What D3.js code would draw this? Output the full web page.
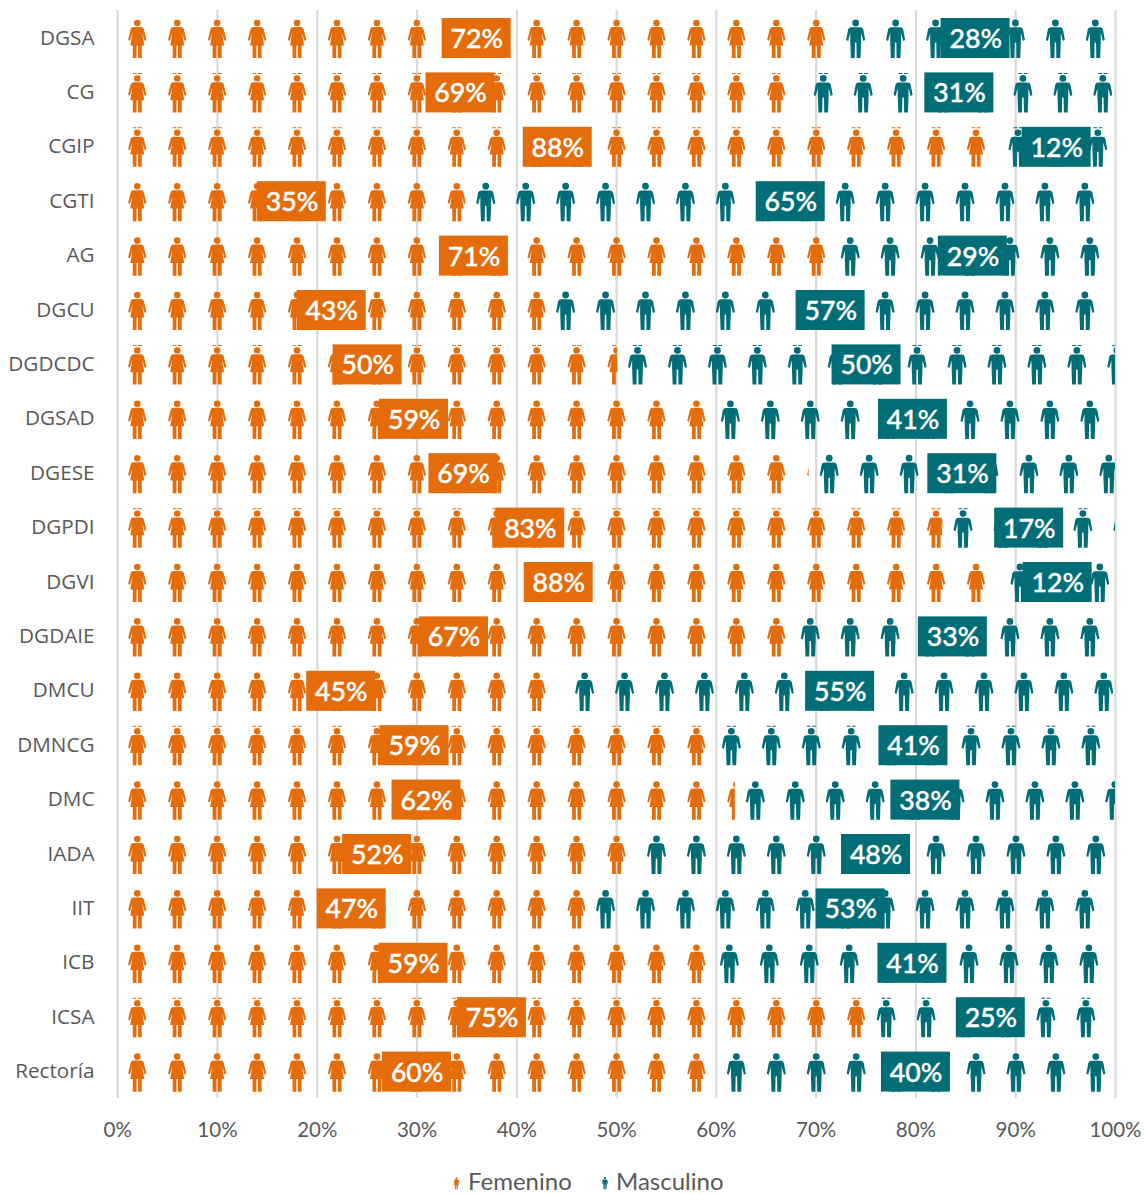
<!DOCTYPE html>
<html><head><meta charset="utf-8">
<script src="https://cdn.jsdelivr.net/npm/d3@7"></script>
<style>
html,body{margin:0;padding:0;background:#fff}
svg{display:block}
</style></head>
<body><div id="chart"></div>
<script>
const categories = ["DGSA","CG","CGIP","CGTI","AG","DGCU","DGDCDC","DGSAD","DGESE","DGPDI","DGVI","DGDAIE","DMCU","DMNCG","DMC","IADA","IIT","ICB","ICSA","Rectoría"];
const femenino = [71.95,68.7,88.2,34.9,71.4,42.9,50.1,59.4,69.3,82.7,88.4,67.4,44.8,59.5,61.9,52,46.9,59.3,75,60];
const femeninoLabels = [72,69,88,35,71,43,50,59,69,83,88,67,45,59,62,52,47,59,75,60];
const masculinoLabels = [28,31,12,65,29,57,50,41,31,17,12,33,55,41,38,48,53,41,25,40];
const tileEdgeRows = ["CG","CGIP","DGDCDC","DGPDI","DMNCG","ICSA"];
const xTicks = [0,10,20,30,40,50,60,70,80,90,100];
const seriesNames = ["Femenino","Masculino"];
const iconStep = 4;

const W = 1146, H = 1194;
const ORANGE = "#E46C0A", TEAL = "#006D77";
const FEMALE = "M-3.3,3.4a3.3,3.3 0 1,0 6.6,0a3.3,3.3 0 1,0 -6.6,0Z M-3.8,7.4L3.8,7.4Q5.9,7.4 6.5,9.2L9.2,20.3L7.4,21.3L4.9,13.4L7,25.8L4.5,25.8L4.5,38.5L0.8,38.5L0.8,25.8L-0.7,25.8L-0.7,38.5L-4.5,38.5L-4.5,25.8L-7,25.8L-4.9,13.4L-7.4,21.3L-9.2,20.3L-6.5,9.2Q-5.9,7.4 -3.8,7.4Z";
const MALE = "M-3.4,3.4a3.4,3.4 0 1,0 6.8,0a3.4,3.4 0 1,0 -6.8,0Z M-4.4,7.6L4.4,7.6Q7,7.6 7.6,10L9.5,20.5L7.6,21.5L5.4,13.5L5.4,22L4.8,38.5L1,38.5L0.7,23L-0.7,23L-1,38.5L-4.8,38.5L-5.4,22L-5.4,13.5L-7.6,21.5L-9.5,20.5L-7.6,10Q-7,7.6 -4.4,7.6Z";
const EDGE = "M-4.5,-2.2h3.8v1h-3.8Z M0.8,-2.2h3.8v1h-3.8Z";

const x = d3.scaleLinear().domain([0,100]).range([117.2,1115]);
const y = d3.scaleBand().domain(categories).range([11,1099]);

const svg = d3.select("#chart").append("svg").attr("width",W).attr("height",H);
const defs = svg.append("defs");

// grid + x axis
const gx = svg.append("g").attr("transform","translate(0,1098)")
  .call(d3.axisBottom(x).tickValues(xTicks).tickFormat(d=>d+"%").tickSize(-1088).tickPadding(0));
gx.select(".domain").remove();
gx.selectAll("line").attr("stroke","#d9d9d9").attr("stroke-width",2.2);
gx.selectAll("text").attr("fill","#595959").attr("y",38.5).attr("dy",0)
  .style("font-family","Lato").style("font-size","20.5px");

// y axis
const gy = svg.append("g").attr("transform","translate(94.5,0)")
  .call(d3.axisLeft(y).tickSize(0).tickPadding(0));
gy.select(".domain").remove();
gy.selectAll("text").attr("fill","#595959")
  .style("font-family","'Open Sans'").style("font-size","20.7px")
  .attr("dy","0.35em").attr("y",-0.8);

const rows = svg.append("g").selectAll("g").data(categories).join("g")
  .attr("transform",d=>`translate(0,${y(d)+y.bandwidth()/2})`);

function iconCentres(start,end){
  const out=[];
  for(let c=start+iconStep/2; c-iconStep/2<end; c+=iconStep) out.push(c);
  return out;
}

rows.each(function(cat,i){
  const g = d3.select(this);
  const v = femenino[i];
  const edge = tileEdgeRows.includes(cat);
  const parts = [
    {id:"f"+i,a:0,b:v,path:FEMALE,color:ORANGE},
    {id:"m"+i,a:v,b:100,path:MALE,color:TEAL}
  ];
  parts.forEach(p=>{
    defs.append("clipPath").attr("id",p.id).append("rect")
      .attr("x",x(p.a)).attr("width",x(p.b)-x(p.a)).attr("y",-30).attr("height",60);
    const pg = g.append("g").attr("clip-path",`url(#${p.id})`).attr("fill",p.color);
    const sy = edge?0.97:1;
    const cs = pg.selectAll("g").data(iconCentres(p.a,p.b)).join("g")
      .attr("transform",c=>`translate(${x(c)+0.1+c*0.007},${-18.6+(edge?1.1:0)}) scale(1,${sy})`);
    cs.append("path").attr("d",p.path);
    if(edge) cs.append("path").attr("d",EDGE);
  });
  const labels=[
    {c:v/2,t:femeninoLabels[i],color:ORANGE},
    {c:v+(100-v)/2,t:masculinoLabels[i],color:TEAL}
  ];
  labels.forEach(l=>{
    g.append("rect").attr("x",x(l.c)-34.5).attr("y",-20.2).attr("width",69).attr("height",40).attr("fill",l.color);
    g.append("text").attr("x",x(l.c)+0.6).attr("y",9.8).attr("text-anchor","middle").attr("fill","#fff")
      .attr("stroke","#fff").attr("stroke-width",0.4)
      .style("font-family","Lato").style("font-size","26.7px").style("font-weight",500).text(l.t+"%");
  });
});

// legend
const legendX = [456.5,605], legendTextX = [468,616], legendIcon=[FEMALE,MALE], legendColor=[ORANGE,TEAL];
seriesNames.forEach((n,i)=>{
  svg.append("path").attr("d",legendIcon[i]).attr("fill",legendColor[i])
    .attr("transform",`translate(${legendX[i]},1177) scale(0.32)`);
  svg.append("text").attr("x",legendTextX[i]).attr("y",1190).attr("fill","#595959")
    .style("font-family","Lato").style("font-size","24px").text(n);
});
</script></body></html>
